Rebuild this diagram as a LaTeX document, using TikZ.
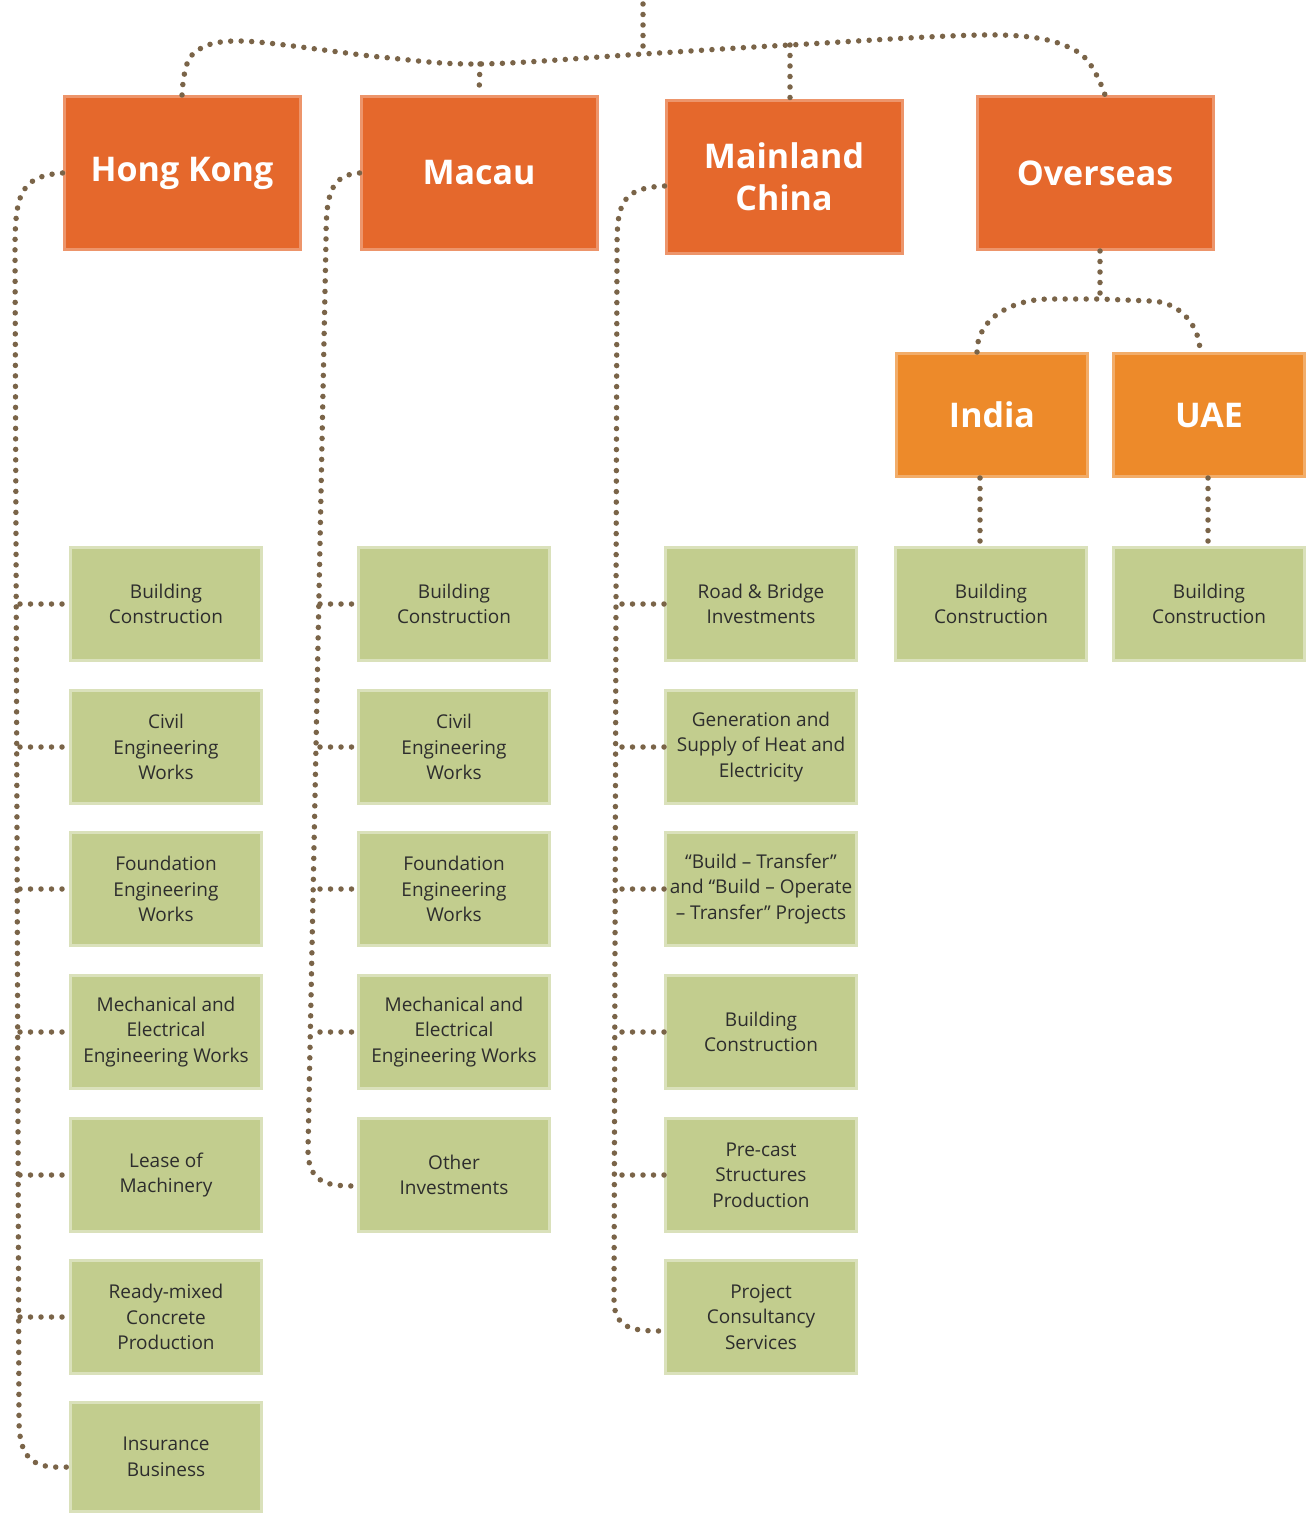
\documentclass[tikz,border=0pt]{standalone}
\usepackage{fontspec}
\setmainfont{Open Sans}
\usepackage{xcolor}
\definecolor{regionred}{RGB}{229,104,44}
\definecolor{countryorange}{RGB}{237,138,42}
\definecolor{unitgreen}{RGB}{194,205,142}
\definecolor{unittext}{RGB}{45,45,45}
\definecolor{dotbrown}{RGB}{122,100,72}

\begin{document}
\begin{tikzpicture}[x=1pt, y=-1pt,
    region/.style={fill=regionred, draw=regionred!70!white, line width=3pt, text=white,
      minimum width=236, minimum height=153, inner sep=0pt, align=center,
      font=\bfseries\fontsize{34}{42}\selectfont},
    country/.style={region, fill=countryorange, draw=countryorange!70!white,
      minimum width=191, minimum height=123},
    unit/.style={fill=unitgreen, draw=unitgreen!60!white, line width=3pt, text=unittext,
      minimum width=191, minimum height=113, inner sep=0pt, align=center,
      font=\fontsize{19}{25.5}\selectfont},
    dotline/.style={draw=dotbrown, line width=5.5pt, line cap=round,
      dash pattern=on 0pt off 10.5pt}]

    \useasboundingbox (0,0) rectangle (1312,1514);

    % regions
    \node[region] (hk) at (182,173) {Hong Kong};
    \node[region] (mo) at (479,173) {Macau};
    \node[region] (cn) at (784,177) {Mainland\\China};
    \node[region] (os) at (1095,173) {Overseas};
    \node[country] (in) at (992,415) {India};
    \node[country] (ae) at (1209,415) {UAE};

    % Hong Kong units
    \node[unit] (hk1) at (166,604) {Building\\Construction};
    \node[unit] (hk2) at (166,747) {Civil\\Engineering\\Works};
    \node[unit] (hk3) at (166,889) {Foundation\\Engineering\\Works};
    \node[unit] (hk4) at (166,1032) {Mechanical and\\Electrical\\Engineering Works};
    \node[unit] (hk5) at (166,1175) {Lease of\\Machinery};
    \node[unit] (hk6) at (166,1317) {Ready-mixed\\Concrete\\Production};
    \node[unit, minimum height=109] (hk7) at (166,1457) {Insurance\\Business};

    % Macau units
    \node[unit] (mo1) at (454,604) {Building\\Construction};
    \node[unit] (mo2) at (454,747) {Civil\\Engineering\\Works};
    \node[unit] (mo3) at (454,889) {Foundation\\Engineering\\Works};
    \node[unit] (mo4) at (454,1032) {Mechanical and\\Electrical\\Engineering Works};
    \node[unit] (mo5) at (454,1175) {Other\\Investments};

    % Mainland units
    \node[unit] (cn1) at (761,604) {Road \& Bridge\\Investments};
    \node[unit] (cn2) at (761,747) {Generation and\\Supply of Heat and\\Electricity};
    \node[unit] (cn3) at (761,889) {“Build – Transfer”\\and “Build – Operate\\– Transfer” Projects};
    \node[unit] (cn4) at (761,1032) {Building\\Construction};
    \node[unit] (cn5) at (761,1175) {Pre-cast\\Structures\\Production};
    \node[unit] (cn6) at (761,1317) {Project\\Consultancy\\Services};

    % Overseas units
    \node[unit] (in1) at (991,604) {Building\\Construction};
    \node[unit] (ae1) at (1209,604) {Building\\Construction};

    % top bar
    \coordinate (root) at (643,4);
    \coordinate (rj) at (643,54);
    \coordinate (mj) at (480,64);
    \coordinate (cj) at (790,45);
    \draw[dotline] (root) -- (rj);
    \draw[dotline] plot[smooth, tension=0.55] coordinates {(hk.north) (192,55) (240,41)
      (380,57) (mj) (rj) (cj) (1000,35) (1078,52) ([xshift=10]os.north)};
    \draw[dotline] (mj) -- (mo.north);
    \draw[dotline] (cj) -- ([xshift=6]cn.north);

    % Hong Kong spine
    \coordinate (hs) at (20,0);
    \draw[dotline] (hk.west) .. controls (20,176) and (15,195) .. (15,250)
      -- (19,1420) .. controls (19,1466) and (40,1468) .. ([yshift=-10]hk7.west);
    \foreach \u in {hk1,hk2,hk3,hk4,hk5,hk6}
      \draw[dotline] (\u.west -| hs) -- (\u.west);

    % Macau spine
    \coordinate (ms) at (320,0);
    \draw[dotline] (mo.west) .. controls (330,175) and (326,195) .. (326,240)
      -- (308,1150) .. controls (308,1185) and (330,1186) .. ([yshift=-11]mo5.west);
    \foreach \u in {mo1,mo2,mo3,mo4}
      \draw[dotline] (\u.west -| ms) -- (\u.west);

    % Mainland spine
    \coordinate (cs) at (622,0);
    \draw[dotline] ([yshift=-9]cn.west) .. controls (620,188) and (617,205) .. (617,250)
      -- (614,1300) .. controls (614,1330) and (635,1331) .. ([yshift=-14]cn6.west);
    \foreach \u in {cn1,cn2,cn3,cn4,cn5}
      \draw[dotline] (\u.west -| cs) -- (\u.west);

    % Overseas branches
    \coordinate (oj) at (1100,299);
    \draw[dotline] ([xshift=5]os.south) -- (oj);
    \draw[dotline] ([xshift=-15]in.north) to[out=90, in=180] (1050,299) -- (oj)
      -- (1150,301) to[out=0, in=90] ([xshift=-9]ae.north);
    \draw[dotline] ([xshift=-12]in.south) -- ([xshift=-11]in1.north);
    \draw[dotline] ([xshift=-1]ae.south) -- ([xshift=-1]ae1.north);

\end{tikzpicture}
\end{document}
